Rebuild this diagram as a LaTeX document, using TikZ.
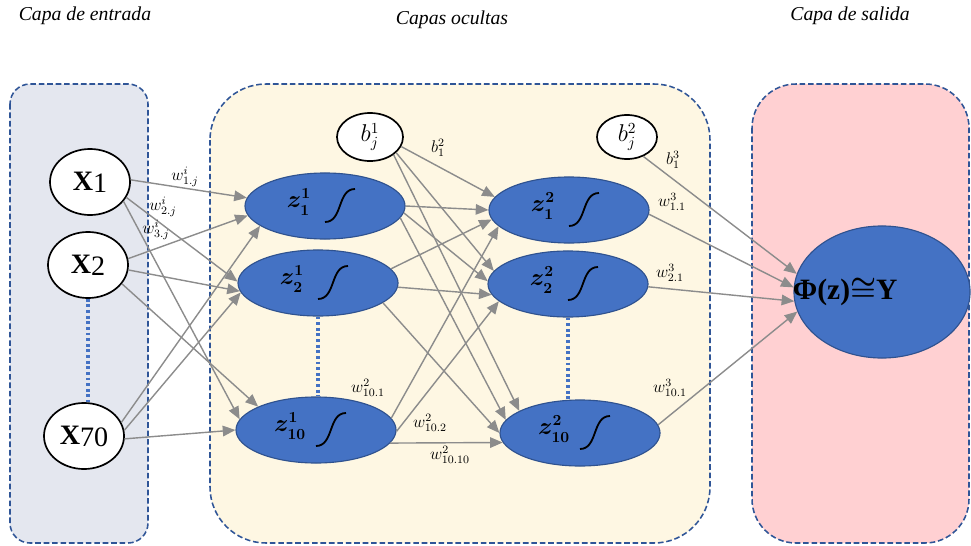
\documentclass[tikz,border=0pt]{standalone}
\usepackage{amsmath}
\usepackage{fontspec}
\setmainfont{Liberation Serif}
\usetikzlibrary{shapes.geometric,arrows.meta}
\definecolor{inbg}{HTML}{E4E7EF}
\definecolor{hidbg}{HTML}{FEF7E3}
\definecolor{outbg}{HTML}{FFD0D2}
\definecolor{boxedge}{HTML}{2F5597}
\definecolor{nodeblue}{HTML}{4472C4}
\definecolor{nodeedge}{HTML}{2F528F}
\definecolor{arrowgray}{HTML}{8C8C8C}
\def\sigmoid(#1){\draw[line width=1.3pt] ([shift={(0,16)}]#1.center) .. controls ([shift={(18,16)}]#1.center) and ([shift={(12,-17)}]#1.center) .. ([shift={(30,-17)}]#1.center);}
\tikzset{
	layerbox/.style={draw=boxedge, line width=1.1pt, dash pattern=on 4pt off 2pt},
	inp/.style={ellipse, draw=black, line width=1.2pt, fill=white, minimum width=2cm, minimum height=1.65cm, inner sep=0pt, font=\fontsize{20}{22}\selectfont},
	bias/.style={ellipse, draw=black, line width=1.2pt, fill=white, inner sep=0pt, font=\fontsize{16}{18}\selectfont},
	neuron/.style={ellipse, draw=nodeedge, line width=0.8pt, fill=nodeblue, minimum width=4cm, minimum height=1.65cm},
	ztext/.style={xshift=-0.65cm, yshift=0.1cm, font=\fontsize{16}{18}\selectfont},
	conn/.style={draw=arrowgray, line width=1pt, -{Triangle[length=9pt,width=7.5pt]}},
	dotline/.style={draw=nodeblue, line width=2.2pt, dash pattern=on 2pt off 2pt},
	wlabel/.style={font=\fontsize{12}{14}\selectfont, inner sep=1pt},
	title/.style={font=\fontsize{14}{16}\selectfont\itshape},
}
\begin{document}
\begin{tikzpicture}[x=0.025cm, y=-0.025cm]
			%%%%% START %%%%%
			\useasboundingbox (0,0) rectangle (971,545);
			\clip (0,0) rectangle (971,545);
			
			\draw[layerbox, fill=inbg, rounded corners=0.5cm] (10,84) rectangle (148,543);
			\draw[layerbox, fill=hidbg, rounded corners=1.4cm] (210,84) rectangle (710,543);
			\draw[layerbox, fill=outbg, rounded corners=1.1cm] (752,84) rectangle (969,543);
			
			\node[title] (tin) at (85,16) {Capa de entrada};
			\node[title] (thid) at (452,20) {Capas ocultas};
			\node[title] (tout) at (850,16) {Capa de salida};
			
			\node[inp] (X1) at (90,182) {\textbf{X}\raisebox{-1.5pt}{1}};
			\node[inp] (X2) at (88,265) {\textbf{X}\raisebox{-1.5pt}{2}};
			\node[inp] (X70) at (84,436) {\textbf{X}\raisebox{-1.5pt}{70}};
			\draw[dotline] (X2.south) -- (X2.south |- X70.north);
			
			\node[bias, minimum width=1.65cm, minimum height=1.2cm] (bj1) at (370,137) {$b^{1}_{j}$};
			\node[bias, minimum width=1.5cm, minimum height=1.1cm] (bj2) at (627,137) {$b^{2}_{j}$};
			
			\node[neuron, label={[ztext]center:$\boldsymbol{z^{1}_{1}}$}] (z11) at (325,206) {};
			\node[neuron, label={[ztext]center:$\boldsymbol{z^{1}_{2}}$}] (z21) at (318,283) {};
			\node[neuron, label={[ztext]center:$\boldsymbol{z^{1}_{10}}$}] (z101) at (316,430) {};
			\draw[dotline] (z21.south) -- (z21.south |- z101.north);
			
			\node[neuron, label={[ztext]center:$\boldsymbol{z^{2}_{1}}$}] (z12) at (569,210) {};
			\node[neuron, label={[ztext]center:$\boldsymbol{z^{2}_{2}}$}] (z22) at (568,284) {};
			\node[neuron, label={[ztext]center:$\boldsymbol{z^{2}_{10}}$}] (z102) at (580,433) {};
			\draw[dotline] (z22.south) -- (z22.south |- z102.north);
			
			\sigmoid(z11) \sigmoid(z21) \sigmoid(z101)
			\sigmoid(z12) \sigmoid(z22) \sigmoid(z102)
			
			\node[ellipse, draw=nodeedge, line width=0.8pt, fill=nodeblue, minimum width=4.4cm, minimum height=3.3cm,
				label={[xshift=-0.92cm, font=\fontsize{21}{24}\selectfont\bfseries]center:{Φ(z)$\boldsymbol{\cong}$Y}}] (out) at (882,292) {};
			
			\draw[conn] (X1.3) -- (z11.174);
			\draw[conn] (X1.-23) -- (z21.179);
			\draw[conn] (X1.-30) -- (z101.172);
			\draw[conn] (X2.9) -- (z11.187);
			\draw[conn] (X2.-7) -- (z21.186);
			\draw[conn] (X2.-29) -- (z101.158);
			\draw[conn] (X70.20) -- (z11.197);
			\draw[conn] (X70.8) -- (z21.187);
			\draw[conn] (X70.-4) -- (z101.180);
			
			\draw[conn] (z11.0) -- (z12.180);
			\draw[conn] (z11.-5) -- (z22.178);
			\draw[conn] (z11.-9) -- (z102.170);
			\draw[conn] (z21.11) -- (z12.187);
			\draw[conn] (z21.-3) -- (z22.188);
			\draw[conn] (z21.-17) -- (z102.180);
			\draw[conn] (z101.9) -- (z12.193);
			\draw[conn] (z101.-1) -- (z22.194);
			\draw[conn] (z101.-10) -- (z102.187);
			\draw[conn] (bj1.-17) -- (z12.170);
			\draw[conn] (bj1.-31) -- (z22.170);
			\draw[conn] (bj1.-37) -- (z102.160);
			
			\draw[conn] (bj2.-50) -- (out.168);
			\draw[conn] (z12.-3) -- (out.177);
			\draw[conn] (z22.-2) -- (out.186);
			\draw[conn] (z102.6) -- (out.193);
			
			\node[wlabel] (w1j) at (185,177) {$w^{i}_{1.j}$};
			\node[wlabel] (w2j) at (163,207) {$w^{i}_{2.j}$};
			\node[wlabel] (w3j) at (156,230) {$w^{i}_{3.j}$};
			\node[wlabel] (b12) at (438,148) {$b^{2}_{1}$};
			\node[wlabel] (w101a) at (368,388) {$w^{2}_{10.1}$};
			\node[wlabel] (w102) at (430,423) {$w^{2}_{10.2}$};
			\node[wlabel] (w1010) at (450,455) {$w^{2}_{10.10}$};
			\node[wlabel] (b13) at (673,160) {$b^{3}_{1}$};
			\node[wlabel] (w11) at (672,202) {$w^{3}_{1.1}$};
			\node[wlabel] (w21) at (670,273) {$w^{3}_{2.1}$};
			\node[wlabel] (w101b) at (670,388) {$w^{3}_{10.1}$};
			
			%%%%% END %%%%%
\end{tikzpicture}
\end{document}
